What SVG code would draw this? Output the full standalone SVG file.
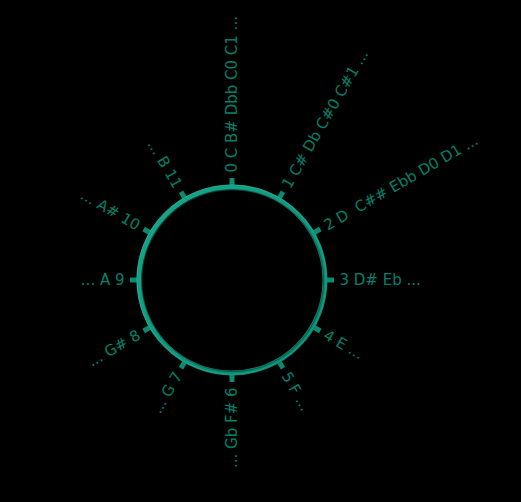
<svg xmlns="http://www.w3.org/2000/svg" width="521" height="502" viewBox="0 0 521 502">
<style>
.lbl{font-family:"DejaVu Sans","Liberation Sans",sans-serif;font-size:15px;fill:#00806a;white-space:pre}
.s{text-anchor:start}
.e{text-anchor:end}
.tick{stroke:#0a8a70;stroke-width:5}
</style>
<defs>
<linearGradient id="ringG" x1="0" y1="0" x2="1" y2="1">
<stop offset="0" stop-color="#1aa68a"/>
<stop offset="0.5" stop-color="#14977e"/>
<stop offset="1" stop-color="#0c7a65"/>
</linearGradient>
</defs>
<rect width="521" height="502" fill="#000"/>
<g id="ticks">
<line class="tick" x1="232" y1="188" x2="232" y2="178"/>
<line class="tick" x1="232" y1="188" x2="232" y2="178" transform="rotate(30 232 280)"/>
<line class="tick" x1="232" y1="188" x2="232" y2="178" transform="rotate(60 232 280)"/>
<line class="tick" x1="232" y1="188" x2="232" y2="178" transform="rotate(90 232 280)"/>
<line class="tick" x1="232" y1="188" x2="232" y2="178" transform="rotate(120 232 280)"/>
<line class="tick" x1="232" y1="188" x2="232" y2="178" transform="rotate(150 232 280)"/>
<line class="tick" x1="232" y1="188" x2="232" y2="178" transform="rotate(180 232 280)"/>
<line class="tick" x1="232" y1="188" x2="232" y2="178" transform="rotate(210 232 280)"/>
<line class="tick" x1="232" y1="188" x2="232" y2="178" transform="rotate(240 232 280)"/>
<line class="tick" x1="232" y1="188" x2="232" y2="178" transform="rotate(270 232 280)"/>
<line class="tick" x1="232" y1="188" x2="232" y2="178" transform="rotate(300 232 280)"/>
<line class="tick" x1="232" y1="188" x2="232" y2="178" transform="rotate(330 232 280)"/>
</g>
<g id="ring">
<circle cx="232" cy="280" r="93" fill="none" stroke="url(#ringG)" stroke-width="5"/>
<circle cx="232.6" cy="280.6" r="91" fill="none" stroke="#06584a" stroke-width="1.2" opacity="0.7"/>
<circle cx="231.6" cy="279.6" r="94.6" fill="none" stroke="#22b898" stroke-width="1" opacity="0.6"/>
</g>
<g id="label-0"><text class="lbl s" x="232" y="172.5" dy="0.35em" transform="rotate(-90 232 172.5)">0 C B# Dbb C0 C1 ...</text></g>
<g id="label-1"><text class="lbl s" x="285.75" y="186.9" dy="0.35em" transform="rotate(-60 285.75 186.9)">1 C# Db C#0 C#1 ...</text></g>
<g id="label-2"><text class="lbl s" x="325.1" y="226.25" dy="0.35em" transform="rotate(-30 325.1 226.25)">2 D  C## Ebb D0 D1 ...</text></g>
<g id="label-3"><text class="lbl s" x="339.5" y="280" dy="0.35em">3 D# Eb ...</text></g>
<g id="label-4"><text class="lbl s" x="325.1" y="333.75" dy="0.35em" transform="rotate(30 325.1 333.75)">4 E ...</text></g>
<g id="label-5"><text class="lbl s" x="285.75" y="373.1" dy="0.35em" transform="rotate(60 285.75 373.1)">5 F ...</text></g>
<g id="label-6"><text class="lbl e" x="232" y="387.5" dy="0.35em" transform="rotate(-90 232 387.5)">... Gb F# 6</text></g>
<g id="label-7"><text class="lbl e" x="178.25" y="373.1" dy="0.35em" transform="rotate(-60 178.25 373.1)">... G 7</text></g>
<g id="label-8"><text class="lbl e" x="138.9" y="333.75" dy="0.35em" transform="rotate(-30 138.9 333.75)">... G# 8</text></g>
<g id="label-9"><text class="lbl e" x="124.5" y="280" dy="0.35em">... A 9</text></g>
<g id="label-10"><text class="lbl e" x="138.9" y="226.25" dy="0.35em" transform="rotate(30 138.9 226.25)">... A# 10</text></g>
<g id="label-11"><text class="lbl e" x="178.25" y="186.9" dy="0.35em" transform="rotate(60 178.25 186.9)">... B 11</text></g>
</svg>
